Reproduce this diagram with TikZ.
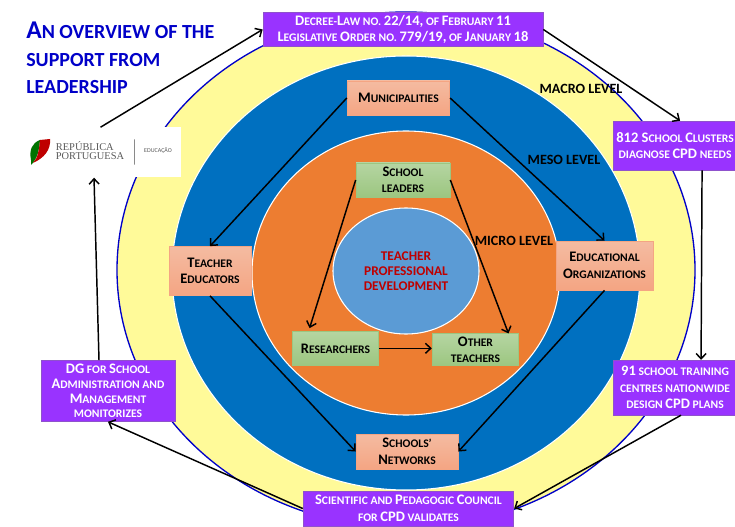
\documentclass[tikz,border=0pt]{standalone}
\usepackage{fontspec}
\setmainfont{Carlito}
\newfontfamily\logofont{Liberation Serif}
\usepackage{tikz}
\usetikzlibrary{arrows.meta}

\definecolor{purplebox}{HTML}{9933FF}
\definecolor{ringblue}{HTML}{0070C0}
\definecolor{ringorange}{HTML}{ED7D31}
\definecolor{coreblue}{HTML}{5B9BD5}
\definecolor{titleblue}{HTML}{0000C8}
\definecolor{peachtop}{HTML}{F4BBA1}
\definecolor{peachbot}{HTML}{F4A583}
\definecolor{greentop}{HTML}{B5D5A2}
\definecolor{greenbot}{HTML}{9CC680}

% capitals in the box labels and in the title
\newcommand{\cp}[1]{{\fontsize{10.9}{12}\selectfont #1}}
\newcommand{\tp}[1]{{\fontsize{19.2}{20.5}\selectfont #1}}

\tikzset{
  ring/.style={draw=white,line width=0.8pt},
  box text/.style={align=center,font=\bfseries\fontsize{8.7}{12.4}\selectfont,inner sep=0pt},
  purple box/.style={box text,fill=purplebox,draw=purplebox!60!gray,line width=0.5pt,text=white},
  peach box/.style={box text,top color=peachtop,bottom color=peachbot,draw=peachbot,line width=0.5pt,text=black},
  green box/.style={box text,top color=greentop,bottom color=greenbot,draw=greenbot,line width=0.5pt,text=black},
  level/.style={text=black,font=\bfseries\fontsize{10.6}{12}\selectfont},
  link/.style={->,line width=1.1pt}
}

\begin{document}
\begin{tikzpicture}[x=0.75pt,y=-0.75pt,>={Straight Barb[length=4pt,width=7.5pt]},auto]
\useasboundingbox (0,0) rectangle (735,527);
\clip (0,0) rectangle (735,527);

% rings
\draw[draw=titleblue,line width=1pt,fill=yellow!40!white] (406,270) ellipse [x radius=289,y radius=258];
\draw[ring,fill=ringblue] (406,273) ellipse [x radius=234,y radius=217];
\draw[ring,fill=ringorange] (406,273) ellipse [x radius=154,y radius=142];
\draw[ring,fill=coreblue] (406,271) ellipse [x radius=73,y radius=63];

\node (core) at (406,271) [align=center,text=red!75!black,font=\bfseries\fontsize{10}{11.2}\selectfont] {TEACHER\\PROFESSIONAL\\DEVELOPMENT};

% inner boxes
\node (leaders) [green box,minimum width=70.5pt,minimum height=25.5pt,node distance=68.25pt,above of=core,xshift=-2.25pt] {\cp{S}CHOOL\\LEADERS};
\node (res) [green box,minimum width=65pt,minimum height=26pt,node distance=58pt,below of=core,xshift=-52.9pt] {\cp{R}ESEARCHERS};
\node (oth) [green box,minimum width=65pt,minimum height=24pt,node distance=105pt,right of=res,yshift=-1.1pt] {\cp{O}THER\\TEACHERS};

% middle boxes
\node (muni) [peach box,minimum width=77pt,minimum height=25.5pt,node distance=61.5pt,above of=leaders,xshift=-3.4pt] {\cp{M}UNICIPALITIES};
\node (teach) [peach box,minimum width=61.5pt,minimum height=36.75pt,node distance=147pt,left of=core] {\cp{T}EACHER\\\cp{E}DUCATORS};
\node (edu) [peach box,minimum width=72.75pt,minimum height=36.75pt,node distance=148.9pt,right of=core,yshift=4.1pt] {\cp{E}DUCATIONAL\\\cp{O}RGANIZATIONS};
\node (net) [peach box,minimum width=76.5pt,minimum height=26pt,node distance=135.4pt,below of=core,xshift=0.75pt] {\cp{S}CHOOLS’\\\cp{N}ETWORKS};

% outer boxes
\node (top) [purple box,minimum width=210pt,minimum height=26pt,node distance=51.4pt,above of=muni,xshift=3.4pt] {\cp{D}ECREE-\cp{L}AW NO. \cp{22/14,} OF \cp{F}EBRUARY \cp{11}\\\cp{L}EGISLATIVE \cp{O}RDER NO. \cp{779/19,} OF \cp{J}ANUARY \cp{18}};
\node (sc) [purple box,minimum width=92pt,minimum height=36.75pt,node distance=52.9pt,right of=edu,yshift=90pt] {\cp{812 S}CHOOL \cp{C}LUSTERS\\DIAGNOSE \cp{CPD} NEEDS};
\node (tc) [purple box,minimum width=92pt,minimum height=41pt,node distance=181.5pt,below of=sc] {\cp{91} SCHOOL TRAINING\\CENTRES NATIONWIDE\\DESIGN \cp{CPD} PLANS};
\node (sci) [purple box,minimum width=158pt,minimum height=26pt,node distance=42.75pt,below of=net,xshift=1.1pt] {\cp{S}CIENTIFIC AND \cp{P}EDAGOGIC \cp{C}OUNCIL\\FOR \cp{CPD} VALIDATES};
\node (dg) [purple box,font=\bfseries\fontsize{8.7}{11}\selectfont,minimum width=100.5pt,minimum height=45.75pt,node distance=76.5pt,left of=teach,yshift=-90pt] {\cp{DG} FOR \cp{S}CHOOL\\\cp{A}DMINISTRATION AND\\\cp{M}ANAGEMENT\\MONITORIZES};

% logo
\node (logo) [fill=white,minimum width=120.75pt,minimum height=37.5pt,inner sep=0pt,node distance=178.9pt,above of=dg,xshift=-5.6pt] {};
\fill[green!45!black] (31,160) .. controls (29,150) and (32,143) .. (40,140) .. controls (39,150) and (38,158) .. (31,165) -- cycle;
\fill[red!75!black] (40,140) -- (50,139) .. controls (51,150) and (44,158) .. (33,163) .. controls (38,158) and (39,150) .. (40,140) -- cycle;
\node (rep) at (90,151) [inner sep=0pt,align=left,text=black!65,font=\logofont\fontsize{7.8}{6.8}\selectfont] {REPÚBLICA\\PORTUGUESA};
\node (bar) at (134,152) [draw=black!70,line width=0.4pt,minimum height=19pt,minimum width=0pt,inner sep=0pt] {};
\node (edut) at (158,151) [inner sep=0pt,text=black!65,font=\fontsize{4.5}{5}\selectfont] {EDUCAÇÃO};

% title
\node (title) at (26,58) [anchor=west,align=left,text=titleblue,font=\bfseries\fontsize{15}{20.5}\selectfont,inner sep=0pt] {\tp{A}N OVERVIEW OF THE\\SUPPORT FROM\\LEADERSHIP};

% level labels
\node (macro) at (581,89) [level] {MACRO LEVEL};
\node (meso) at (564,160) [level] {MESO LEVEL};
\node (micro) at (514,241) [level] {MICRO LEVEL};

% outer loop
\draw[link] (logo.north) to (top.west);
\draw[link] (top.east) to ([xshift=3.75pt]sc.north);
\draw[link] ([xshift=20.25pt]sc.south) to ([xshift=19.5pt]tc.north);
\draw[link] ([xshift=4.5pt]tc.south) to (sci.east);
\draw[link] (sci.west) to (dg.south);
\draw[link] ([xshift=-6.75pt]dg.north) to ([xshift=-4.9pt]logo.south);

% middle loop
\draw[link] (muni.west) to (teach.north);
\draw[link] (muni.east) to (edu.north);
\draw[link] (edu.south) to (net.east);
\draw[link] (teach.south) to (net.west);

% inner loop
\draw[link,shorten >=2pt] (leaders.west) to ([xshift=-20pt]res.north);
\draw[link] (leaders.east) to ([xshift=24.75pt]oth.north);
\draw[link] (res.east) to (res.east -| oth.west);
\end{tikzpicture}
\end{document}
